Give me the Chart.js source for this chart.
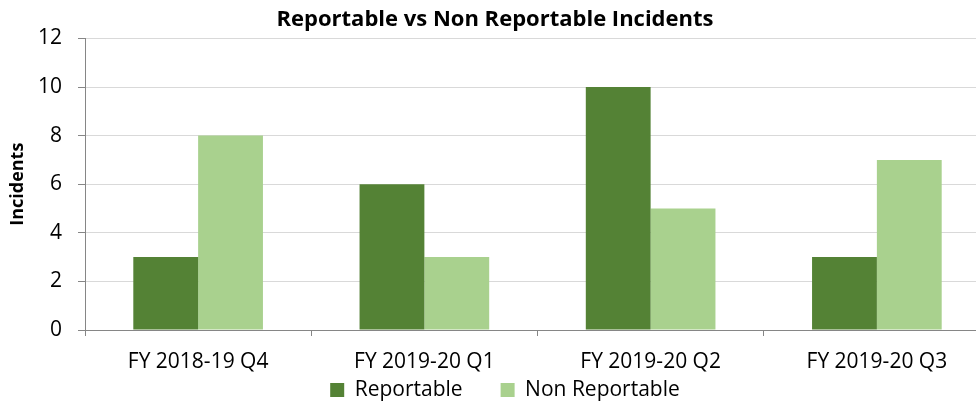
<!DOCTYPE html>
<html><head><meta charset="utf-8">
<script src="https://cdn.jsdelivr.net/npm/chart.js@4.4.0/dist/chart.umd.min.js"></script>
<style>html,body{margin:0;padding:0;background:#fff;overflow:hidden;width:976px;height:402px}#wrap{width:990px;height:445px;position:relative}</style>
</head><body><div id="wrap"><canvas id="c"></canvas></div>
<script>
const categories = ["FY 2018-19 Q4", "FY 2019-20 Q1", "FY 2019-20 Q2", "FY 2019-20 Q3"];
const reportable = [3, 6, 10, 3];
const nonReportable = [8, 3, 5, 7];
const yTicks = [0, 2, 4, 6, 8, 10, 12];
const FONT = "'Open Sans', sans-serif";
const LEGEND_PAD = 38, LEGEND_FONT = 21;
const shift = {
  id: 'shift',
  afterLayout(chart) {
    const lg = chart.legend;
    if (lg) {
      lg.left += 10; lg.right += 10;
      const dy = (chart.chartArea.bottom + 60) - (lg.top + LEGEND_PAD + LEGEND_FONT / 2);
      lg.top += dy; lg.bottom += dy;
    }
  }
};
new Chart(document.getElementById('c'), {
  type: 'bar',
  data: { labels: categories, datasets: [
    { label: 'Reportable', data: reportable, backgroundColor: '#548235', categoryPercentage: 0.573, barPercentage: 1.0 },
    { label: 'Non Reportable', data: nonReportable, backgroundColor: '#a9d18e', categoryPercentage: 0.573, barPercentage: 1.0 }
  ]},
  plugins: [shift],
  options: {
    responsive: true, maintainAspectRatio: false, animation: false,
    layout: { padding: 0 },
    plugins: {
      title: { display: true, text: 'Reportable vs Non Reportable Incidents', color: '#000', font: { family: FONT, size: 22, weight: 'bold' }, padding: { top: 7, bottom: 5 } },
      legend: { position: 'bottom', labels: { color: '#000', font: { family: FONT, size: LEGEND_FONT }, boxWidth: 14, boxHeight: 14, padding: LEGEND_PAD } },
      tooltip: { enabled: false }
    },
    scales: {
      x: {
        afterFit: s => { s.height = 46; },
        grid: { drawOnChartArea: false, tickColor: '#868686', tickLength: 6, offset: true },
        border: { color: '#868686', width: 1 },
        ticks: { color: '#000', font: { family: FONT, size: 21 }, padding: 13, maxRotation: 0, autoSkip: false }
      },
      y: {
        min: 0, max: 12,
        afterBuildTicks: s => { s.ticks = yTicks.map(v => ({ value: v })); },
        afterFit: s => { s.width = 85; },
        grid: { color: '#d9d9d9', tickColor: '#868686', tickLength: 7 },
        border: { color: '#868686', width: 1 },
        ticks: { color: '#000', font: { family: FONT, size: 21 }, padding: 16 },
        title: { display: true, text: 'Incidents', color: '#000', font: { family: FONT, size: 18, weight: 'bold' }, padding: { top: 7, bottom: 0 } }
      }
    }
  }
});
</script></body></html>
